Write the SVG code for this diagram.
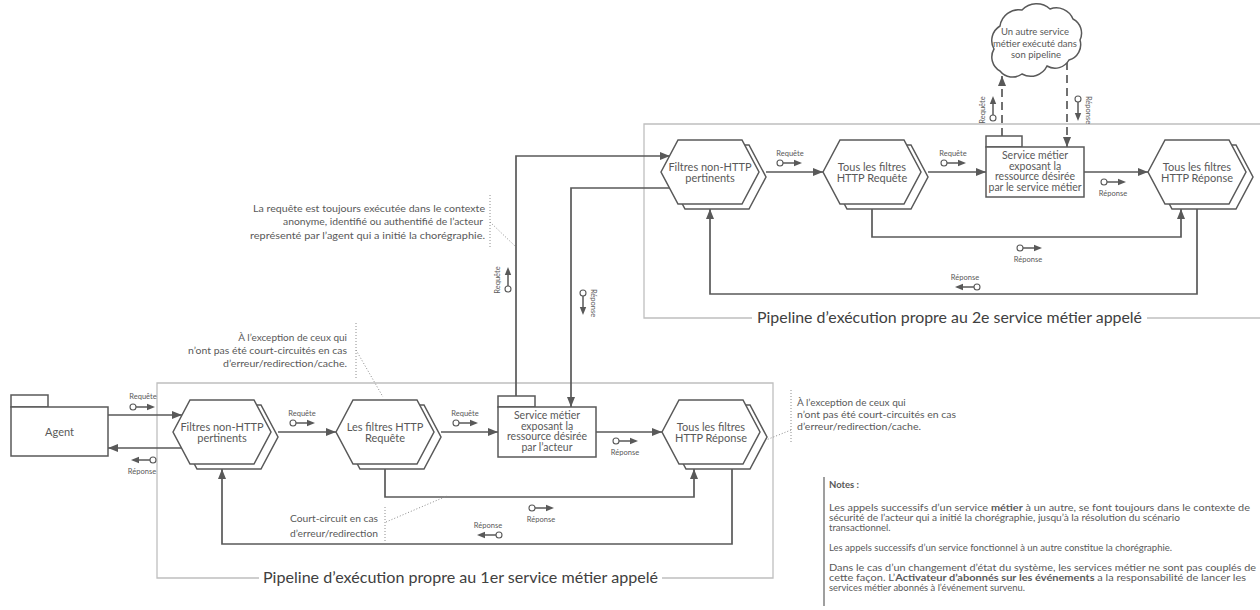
<svg xmlns="http://www.w3.org/2000/svg" xmlns:xlink="http://www.w3.org/1999/xlink" width="1260" height="610" viewBox="0 0 1260 610">
  <style>
    .shape { fill: #ffffff; stroke: #595959; stroke-width: 1.5; }
    .conn { fill: none; stroke: #595959; stroke-width: 1.7; }
    .dash { stroke-dasharray: 8 5; }
    .pipe { fill: none; stroke: #bfbfbf; stroke-width: 1.3; }
    .dot { fill: none; stroke: #8c8c8c; stroke-width: 1; stroke-dasharray: 1 2; }
    .notebar { fill: none; stroke: #7f7f7f; stroke-width: 1.5; }
    text { font-family: Lato, "Liberation Sans", sans-serif; fill: #595959; }
    .lbl { font-size: 11px; text-anchor: middle; }
    .svc { font-size: 10.5px; text-anchor: middle; }
    .tiny { font-size: 7.5px; text-anchor: middle; }
    .ann { font-size: 10px; }
    .end { text-anchor: end; }
    .note { font-size: 9.5px; }
    .b { font-weight: bold; }
    .pl { font-size: 15px; fill: #404040; }
    .cloudtxt { font-size: 9.5px; text-anchor: middle; }
  </style>
  <defs>
    <marker id="ah" viewBox="0 0 10 8" refX="10" refY="4" markerWidth="10" markerHeight="8" markerUnits="userSpaceOnUse" orient="auto">
      <path d="M0,0 L10,4 L0,8 Z" fill="#595959"/>
    </marker>
    <!-- hexagon filter shape, origin at the left vertex -->
    <polygon id="hex" points="0,0 17,-32 81,-32 98,0 81,32 17,32"/>
    <!-- small message icon: circle then arrow pointing along +x -->
    <g id="io">
      <line x1="3" y1="0" x2="15" y2="0" stroke="#595959" stroke-width="1.5"/>
      <path d="M14,-3.2 L22,0 L14,3.2 Z" fill="#595959"/>
      <circle r="3" fill="#ffffff" stroke="#595959" stroke-width="1.1"/>
    </g>
  </defs>

  <!-- pipeline frames -->
  <g id="pipeline-1">
    <path class="pipe" d="M259,578 H157 V383 H773 V578 H662"/>
    <text class="pl" x="263" y="583" textLength="395" lengthAdjust="spacingAndGlyphs">Pipeline d’exécution propre au 1er service métier appelé</text>
  </g>
  <g id="pipeline-2">
    <path class="pipe" d="M752,318 H644 V124 H1262"/>
    <path class="pipe" d="M1147,318 H1262"/>
    <text class="pl" x="757" y="323" textLength="385" lengthAdjust="spacingAndGlyphs">Pipeline d’exécution propre au 2e service métier appelé</text>
  </g>

  <!-- connectors -->
  <g id="connectors">
    <path class="conn" d="M108,415 H182" marker-end="url(#ah)"/>
    <path class="conn" d="M182,448 H108" marker-end="url(#ah)"/>
    <path class="conn" d="M278,432 H336" marker-end="url(#ah)"/>
    <path class="conn" d="M441,432 H498" marker-end="url(#ah)"/>
    <path class="conn" d="M596,432 H662" marker-end="url(#ah)"/>
    <path class="conn" d="M385,469 V497 H694 V469" marker-end="url(#ah)"/>
    <path class="conn" d="M732,469 V544 H222 V469" marker-end="url(#ah)"/>
    <path class="conn" d="M516,396 V156 H670" marker-end="url(#ah)"/>
    <path class="conn" d="M670,188 H571 V407" marker-end="url(#ah)"/>
    <path class="conn" d="M766,172 H823" marker-end="url(#ah)"/>
    <path class="conn" d="M928,172 H986" marker-end="url(#ah)"/>
    <path class="conn" d="M1084,172 H1148" marker-end="url(#ah)"/>
    <path class="conn" d="M872,209 V237 H1181 V209" marker-end="url(#ah)"/>
    <path class="conn" d="M1197,209 V294 H710 V209" marker-end="url(#ah)"/>
    <path class="conn dash" d="M1002,136 V76" marker-end="url(#ah)"/>
    <path class="conn dash" d="M1067,62 V147" marker-end="url(#ah)"/>
  </g>

  <!-- message icons and their captions -->
  <g id="messages">
    <use xlink:href="#io" href="#io" transform="translate(133,407)"/>
    <text class="tiny" x="143" y="399">Requête</text>
    <use xlink:href="#io" href="#io" transform="translate(153,460) rotate(180)"/>
    <text class="tiny" x="142" y="473.5">Réponse</text>
    <use xlink:href="#io" href="#io" transform="translate(293,423)"/>
    <text class="tiny" x="302" y="415.5">Requête</text>
    <use xlink:href="#io" href="#io" transform="translate(456,423)"/>
    <text class="tiny" x="465" y="415.5">Requête</text>
    <use xlink:href="#io" href="#io" transform="translate(616,441)"/>
    <text class="tiny" x="625" y="454.5">Réponse</text>
    <use xlink:href="#io" href="#io" transform="translate(532,508)"/>
    <text class="tiny" x="541" y="521.5">Réponse</text>
    <use xlink:href="#io" href="#io" transform="translate(499,535) rotate(180)"/>
    <text class="tiny" x="488" y="527.5">Réponse</text>
    <use xlink:href="#io" href="#io" transform="translate(508,289) rotate(-90)"/>
    <text class="tiny" transform="translate(497,280) rotate(-90)" y="2.5">Requête</text>
    <use xlink:href="#io" href="#io" transform="translate(583,293) rotate(90)"/>
    <text class="tiny" transform="translate(593,303) rotate(90)" y="2.5">Réponse</text>

    <use xlink:href="#io" href="#io" transform="translate(780,163)"/>
    <text class="tiny" x="790" y="155.5">Requête</text>
    <use xlink:href="#io" href="#io" transform="translate(944,163)"/>
    <text class="tiny" x="953" y="155.5">Requête</text>
    <use xlink:href="#io" href="#io" transform="translate(1104,182)"/>
    <text class="tiny" x="1113" y="195.5">Réponse</text>
    <use xlink:href="#io" href="#io" transform="translate(1020,248)"/>
    <text class="tiny" x="1028" y="261.5">Réponse</text>
    <use xlink:href="#io" href="#io" transform="translate(977,287) rotate(180)"/>
    <text class="tiny" x="965" y="279.5">Réponse</text>
    <use xlink:href="#io" href="#io" transform="translate(993,118) rotate(-90)"/>
    <text class="tiny" transform="translate(982,110) rotate(-90)" y="2.5">Requête</text>
    <use xlink:href="#io" href="#io" transform="translate(1078,99) rotate(90)"/>
    <text class="tiny" transform="translate(1088,110) rotate(90)" y="2.5">Réponse</text>
  </g>

  <!-- nodes -->
  <g id="agent" transform="translate(11,395)">
    <rect class="shape" x="0" y="0" width="37" height="12"/>
    <rect class="shape" x="0" y="12" width="97" height="49"/>
    <text class="lbl" x="48.5" y="41">Agent</text>
  </g>

  <g id="filtres-non-http-1" transform="translate(173,432)">
    <use xlink:href="#hex" href="#hex" class="shape" x="7" y="5"/>
    <use xlink:href="#hex" href="#hex" class="shape"/>
    <text class="lbl" x="49" y="-1.5">Filtres non-HTTP</text>
    <text class="lbl" x="49" y="10">pertinents</text>
  </g>

  <g id="filtres-http-requete-1" transform="translate(336,432)">
    <use xlink:href="#hex" href="#hex" class="shape" x="7" y="5"/>
    <use xlink:href="#hex" href="#hex" class="shape"/>
    <text class="lbl" x="49" y="-1.5">Les filtres HTTP</text>
    <text class="lbl" x="49" y="10">Requête</text>
  </g>

  <g id="service-1" transform="translate(498,396)">
    <rect class="shape" x="0" y="0" width="37" height="11"/>
    <rect class="shape" x="0" y="11" width="98" height="50"/>
    <text class="svc" x="49" y="23">Service métier</text>
    <text class="svc" x="49" y="33.5">exposant la</text>
    <text class="svc" x="49" y="44">ressource désirée</text>
    <text class="svc" x="49" y="55">par l’acteur</text>
  </g>

  <g id="filtres-http-reponse-1" transform="translate(662,432)">
    <use xlink:href="#hex" href="#hex" class="shape" x="7" y="5"/>
    <use xlink:href="#hex" href="#hex" class="shape"/>
    <text class="lbl" x="49" y="-1.5">Tous les filtres</text>
    <text class="lbl" x="49" y="10">HTTP Réponse</text>
  </g>

  <g id="filtres-non-http-2" transform="translate(661,172)">
    <use xlink:href="#hex" href="#hex" class="shape" x="7" y="5"/>
    <use xlink:href="#hex" href="#hex" class="shape"/>
    <text class="lbl" x="49" y="-1.5">Filtres non-HTTP</text>
    <text class="lbl" x="49" y="10">pertinents</text>
  </g>

  <g id="filtres-http-requete-2" transform="translate(823,172)">
    <use xlink:href="#hex" href="#hex" class="shape" x="7" y="5"/>
    <use xlink:href="#hex" href="#hex" class="shape"/>
    <text class="lbl" x="49" y="-1.5">Tous les filtres</text>
    <text class="lbl" x="49" y="10">HTTP Requête</text>
  </g>

  <g id="service-2" transform="translate(986,136)">
    <rect class="shape" x="0" y="0" width="36" height="11"/>
    <rect class="shape" x="0" y="11" width="98" height="50"/>
    <text class="svc" x="49" y="23">Service métier</text>
    <text class="svc" x="49" y="33.5">exposant la</text>
    <text class="svc" x="49" y="44">ressource désirée</text>
    <text class="svc" x="49" y="55" textLength="93" lengthAdjust="spacingAndGlyphs">par le service métier</text>
  </g>

  <g id="filtres-http-reponse-2" transform="translate(1148,172)">
    <use xlink:href="#hex" href="#hex" class="shape" x="7" y="5"/>
    <use xlink:href="#hex" href="#hex" class="shape"/>
    <text class="lbl" x="49" y="-1.5">Tous les filtres</text>
    <text class="lbl" x="49" y="10">HTTP Réponse</text>
  </g>

  <g id="autre-service">
    <path class="shape" d="M1000,71 A16,16 0 0 1 994,49 A17,17 0 0 1 1000,26 A19,19 0 0 1 1022,10 A20,20 0 0 1 1050,9 A18,18 0 0 1 1073,19 A16,16 0 0 1 1080,40 A16,16 0 0 1 1069,60 A16,16 0 0 1 1047,66 A18,18 0 0 1 1022,74 A16,16 0 0 1 1000,71 Z"/>
    <text class="cloudtxt" x="1035" y="35">Un autre service</text>
    <text class="cloudtxt" x="1035" y="46.5">métier exécuté dans</text>
    <text class="cloudtxt" x="1036" y="58">son pipeline</text>
  </g>

  <!-- callouts -->
  <g id="note-contexte">
    <path class="dot" d="M490,195 V248 M490,222 L515,246"/>
    <text class="ann end" x="485" y="211.5" textLength="232" lengthAdjust="spacingAndGlyphs">La requête est toujours exécutée dans le contexte</text>
    <text class="ann end" x="483" y="225" textLength="200" lengthAdjust="spacingAndGlyphs">anonyme, identifié ou authentifié de l’acteur</text>
    <text class="ann end" x="485" y="238.5" textLength="235" lengthAdjust="spacingAndGlyphs">représenté par l’agent qui a initié la chorégraphie.</text>
  </g>

  <g id="note-exception-requete">
    <path class="dot" d="M356,323 V378 M356,350 L383,397"/>
    <text class="ann end" x="347" y="340.5">À l’exception de ceux qui</text>
    <text class="ann end" x="347" y="353.5" textLength="159" lengthAdjust="spacingAndGlyphs">n’ont pas été court-circuités en cas</text>
    <text class="ann end" x="347" y="366.5" textLength="124" lengthAdjust="spacingAndGlyphs">d’erreur/redirection/cache.</text>
  </g>

  <g id="note-court-circuit">
    <path class="dot" d="M385,507 V543 M386,522 L447,496"/>
    <text class="ann end" x="378" y="522" textLength="88" lengthAdjust="spacingAndGlyphs">Court-circuit en cas</text>
    <text class="ann end" x="378" y="537" textLength="88" lengthAdjust="spacingAndGlyphs">d’erreur/redirection</text>
  </g>

  <g id="note-exception-reponse">
    <path class="dot" d="M791,390 V442 M791,430 L766,440"/>
    <text class="ann" x="797" y="405.5">À l’exception de ceux qui</text>
    <text class="ann" x="797" y="417.5" textLength="159" lengthAdjust="spacingAndGlyphs">n’ont pas été court-circuités en cas</text>
    <text class="ann" x="797" y="429.5" textLength="124" lengthAdjust="spacingAndGlyphs">d’erreur/redirection/cache.</text>
  </g>

  <g id="notes">
    <path class="notebar" d="M824,477 V606"/>
    <text class="note b" x="829" y="488">Notes :</text>
    <text class="note" x="829" y="511" textLength="421" lengthAdjust="spacingAndGlyphs">Les appels successifs d’un service <tspan class="b">métier</tspan> à un autre, se font toujours dans le contexte de</text>
    <text class="note" x="829" y="521" textLength="351" lengthAdjust="spacingAndGlyphs">sécurité de l’acteur qui a initié la chorégraphie, jusqu’à la résolution du scénario</text>
    <text class="note" x="829" y="531">transactionnel.</text>
    <text class="note" x="829" y="551" textLength="343" lengthAdjust="spacingAndGlyphs">Les appels successifs d’un service fonctionnel à un autre constitue la chorégraphie.</text>
    <text class="note" x="829" y="571" textLength="427" lengthAdjust="spacingAndGlyphs">Dans le cas d’un changement d’état du système, les services métier ne sont pas couplés de</text>
    <text class="note" x="829" y="581" textLength="417" lengthAdjust="spacingAndGlyphs">cette façon. L’<tspan class="b">Activateur d’abonnés sur les événements</tspan> a la responsabilité de lancer les</text>
    <text class="note" x="829" y="591" textLength="196" lengthAdjust="spacingAndGlyphs">services métier abonnés à l’événement survenu.</text>
  </g>
</svg>
